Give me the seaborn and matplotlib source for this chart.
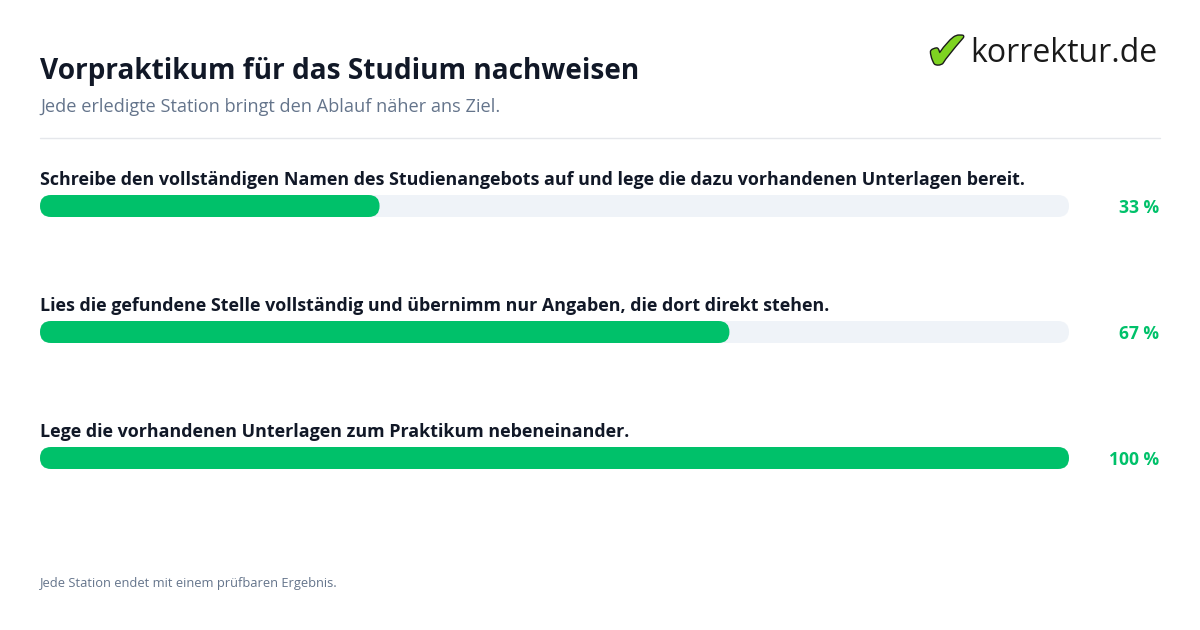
import matplotlib
matplotlib.use("Agg")
import matplotlib.pyplot as plt
import matplotlib.patheffects as pe
from matplotlib.patches import FancyBboxPatch
from matplotlib.transforms import blended_transform_factory
import seaborn as sns

title = "Vorpraktikum für das Studium nachweisen"
subtitle = "Jede erledigte Station bringt den Ablauf näher ans Ziel."
footer = "Jede Station endet mit einem prüfbaren Ergebnis."
steps = [
    "Schreibe den vollständigen Namen des Studienangebots auf und lege die dazu vorhandenen Unterlagen bereit.",
    "Lies die gefundene Stelle vollständig und übernimm nur Angaben, die dort direkt stehen.",
    "Lege die vorhandenen Unterlagen zum Praktikum nebeneinander.",
]
progress = [33, 67, 100]
full = [100, 100, 100]

GREEN = "#00c16a"
TRACK = "#eff3f8"
DARK = "#111827"
MUTED = "#64748b"

sns.set_theme(style="white")
plt.rcParams["font.family"] = ["Open Sans", "DejaVu Sans"]

W, H = 1200, 630
fig = plt.figure(figsize=(12, 6.3), dpi=100)
fig.patch.set_facecolor("white")

# bar axes: x 0..100 spans px 40..1069, rows 126 px apart
ax = fig.add_axes([40 / W, 1 - 521 / H, 1029 / W, 378 / H])
sns.barplot(x=full, y=steps, orient="h", color=TRACK, saturation=1,
            width=22 / 126, ax=ax)
sns.barplot(x=progress, y=steps, orient="h", color=GREEN, saturation=1,
            width=22 / 126, ax=ax)
ax.set_xlim(0, 100)
ax.set_ylim(2.5, -0.5)
ax.axis("off")

# rounded ends
aspect = (1 / 126) / (100 / 1029)
r = 11 * 100 / 1029
for p in list(ax.patches):
    x0, y0, w, h = p.get_x(), p.get_y(), p.get_width(), p.get_height()
    fc = p.get_facecolor()
    p.remove()
    ax.add_patch(FancyBboxPatch((x0, y0), w, h,
                                boxstyle=f"round,pad=0,rounding_size={r}",
                                mutation_aspect=aspect, fc=fc, ec="none"))

tr = blended_transform_factory(fig.transFigure, ax.transData)
for i, (lab, v) in enumerate(zip(steps, progress)):
    ax.text(0, i - 26 / 126, lab, fontsize=12.9, fontweight="bold", color=DARK,
            ha="left", va="center")
    ax.text(1159 / W, i + 2 / 126, f"{v} %", transform=tr, fontsize=12.6,
            fontweight="bold", color=GREEN, ha="right", va="center")

fig.text(40 / W, 1 - 71 / H, title, fontsize=20.2, fontweight="bold", color=DARK,
         ha="left", va="center")
fig.text(40 / W, 1 - 107 / H, subtitle, fontsize=13.1, color=MUTED,
         ha="left", va="center")
fig.add_artist(plt.Line2D([40 / W, 1160 / W], [1 - 138 / H, 1 - 138 / H],
                          color="#e5e7eb", lw=1))
fig.text(40 / W, 1 - 583 / H, footer, fontsize=9.3, color=MUTED,
         ha="left", va="center")

# logo
fig.text(925 / W, 1 - 54 / H, "\u2714", fontsize=38, color="#7ed321",
         family="DejaVu Sans", ha="left", va="center",
         path_effects=[pe.withStroke(linewidth=2, foreground="#1a1a1a")])
fig.text(1157 / W, 1 - 54 / H, "korrektur.de", fontsize=23, color="#1a1a1a",
         ha="right", va="center")

fig.savefig("out.png", dpi=100, facecolor="white")
